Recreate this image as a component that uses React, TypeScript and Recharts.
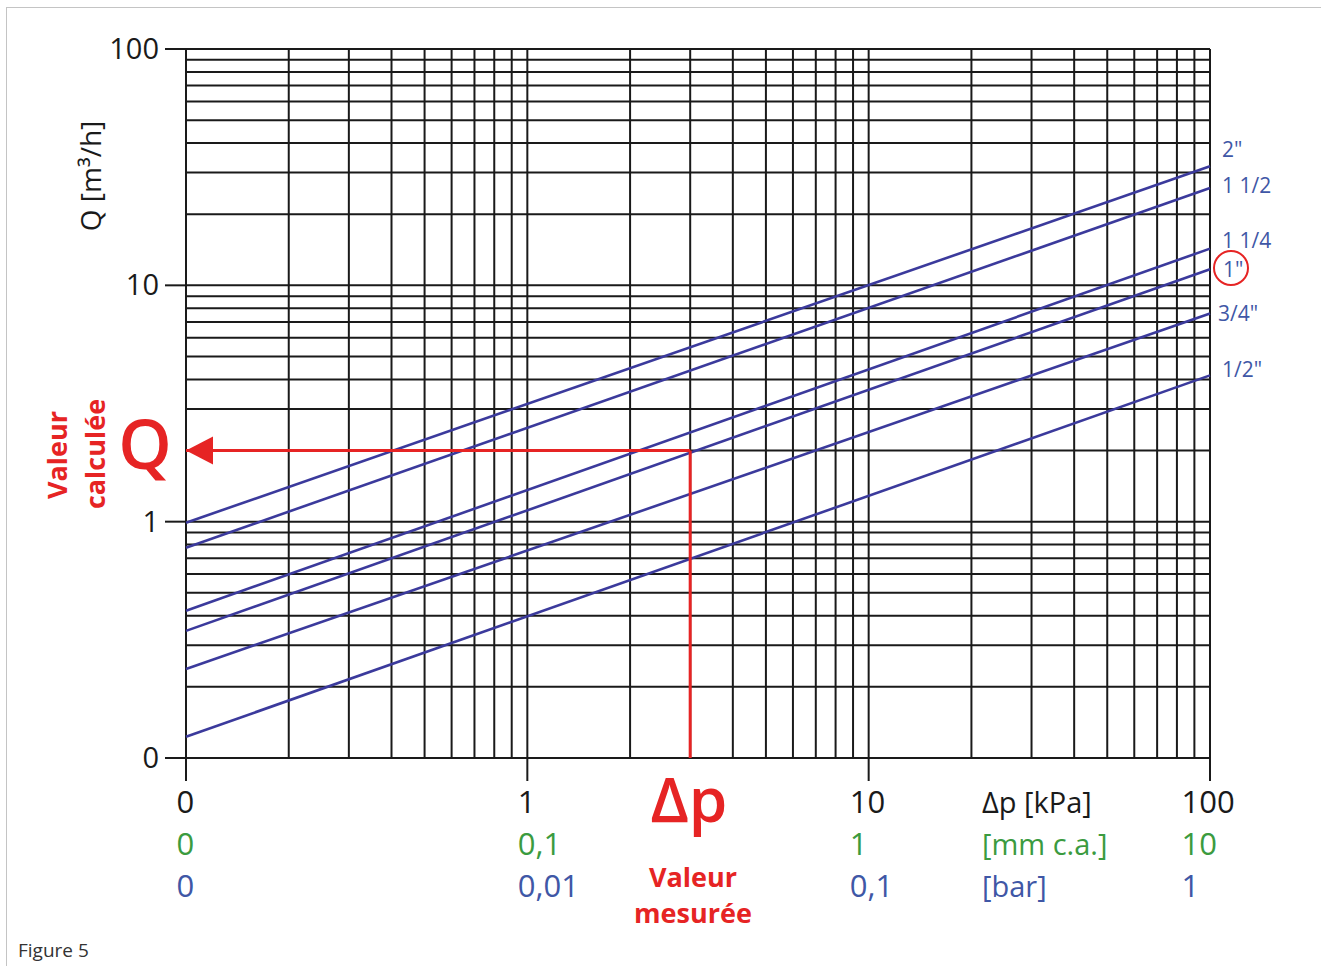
import React from "react";
import {
  LineChart,
  Line,
  XAxis,
  YAxis,
  CartesianGrid,
  ReferenceLine,
  ReferenceDot,
} from "recharts";

// log grid: 1..9 per decade
const gridTicks = [
  0.1, 0.2, 0.3, 0.4, 0.5, 0.6, 0.7, 0.8, 0.9,
  1, 2, 3, 4, 5, 6, 7, 8, 9,
  10, 20, 30, 40, 50, 60, 70, 80, 90, 100,
];

const majorTicks = [0.1, 1, 10, 100];
const kpaLabels = ["0", "1", "10", "100"];
const mmcaLabels = ["0", "0,1", "1", "10"];
const barLabels = ["0", "0,01", "0,1", "1"];
const qLabels = ["0", "1", "10", "100"];

// diameters, Q at Δp = 0.1 kPa and at 100 kPa
const sizes = ['2"', "1 1/2", "1 1/4", '1"', '3/4"', '1/2"'];
const dpEnds = [0.1, 100];
const qAtLow = [0.99, 0.776, 0.42, 0.345, 0.238, 0.123];
const qAtHigh = [31.9, 25.8, 14.3, 11.7, 7.6, 4.16];

// worked example: measured Δp -> calculated Q
const measuredDp = 3;
const calculatedQ = 2;

const data = dpEnds.map((dp, i) => {
  const row: Record<string, number> = { dp };
  sizes.forEach((_, k) => {
    row["s" + k] = i === 0 ? qAtLow[k] : qAtHigh[k];
  });
  return row;
});

const labelOffset = [
  { dx: 12, dy: -9 },
  { dx: 12, dy: 5 },
  { dx: 12, dy: -1 },
  { dx: 13, dy: 8 },
  { dx: 8, dy: 7 },
  { dx: 12, dy: 2 },
];

const FONT = "'Open Sans', sans-serif";
const BLACK = "#1a1a1a";
const GREEN = "#3b9b3f";
const BLUE = "#3f57a6";
const RED = "#e62424";
const LINE = "#3b3a9c";

function XTick(props: any) {
  const { x, y, payload } = props;
  const i = majorTicks.indexOf(payload.value);
  if (i < 0) return <g />;
  const sx = x - 9.5 * kpaLabels[i].length;
  return (
    <g fontFamily={FONT} fontSize={31}>
      <line x1={x} x2={x} y1={y} y2={y + 23} stroke={BLACK} strokeWidth={2} />
      <text x={sx} y={y + 55} fill={BLACK}>
        {kpaLabels[i]}
      </text>
      <text x={sx} y={y + 97} fill={GREEN}>
        {mmcaLabels[i]}
      </text>
      <text x={sx} y={y + 139} fill={BLUE}>
        {barLabels[i]}
      </text>
    </g>
  );
}

function YTick(props: any) {
  const { x, y, payload } = props;
  const i = majorTicks.indexOf(payload.value);
  if (i < 0) return <g />;
  return (
    <g>
      <line x1={x - 21} x2={x} y1={y} y2={y} stroke={BLACK} strokeWidth={2} />
      <text
        x={x - 27}
        y={y + 10}
        textAnchor="end"
        fontFamily={FONT}
        fontSize={29}
        fill={BLACK}
      >
        {qLabels[i]}
      </text>
    </g>
  );
}

const arrowHead = (p: any) => (
  <path
    d={`M${p.cx},${p.cy} L${p.cx + 27},${p.cy - 14} L${p.cx + 27},${p.cy + 14} Z`}
    fill={RED}
  />
);

export default function App() {
  return (
    <div
      style={{
        position: "absolute",
        left: 0,
        top: 0,
        width: 1321,
        height: 966,
        background: "#fff",
        fontFamily: FONT,
      }}
    >
      <div
        style={{
          position: "absolute",
          left: 6,
          top: 7,
          right: 0,
          bottom: 0,
          borderTop: "1px solid #c4c4c4",
          borderLeft: "1px solid #c4c4c4",
        }}
      />
      <div style={{ position: "absolute", left: 0, top: 0 }}>
        <LineChart
          width={1321}
          height={966}
          data={data}
          margin={{ top: 49, right: 111, bottom: 58, left: 86 }}
        >
          <CartesianGrid stroke={BLACK} strokeWidth={2} />
          <XAxis
            dataKey="dp"
            type="number"
            scale="log"
            domain={[0.1, 100]}
            ticks={gridTicks}
            interval={0}
            height={150}
            axisLine={false}
            tickLine={false}
            tickSize={0}
            tickMargin={0}
            tick={<XTick />}
          />
          <YAxis
            type="number"
            scale="log"
            domain={[0.1, 100]}
            ticks={gridTicks}
            interval={0}
            width={100}
            axisLine={false}
            tickLine={false}
            tickSize={0}
            tickMargin={0}
            tick={<YTick />}
          />
          {sizes.map((s, k) => (
            <Line
              key={s}
              dataKey={"s" + k}
              stroke={LINE}
              strokeWidth={2.6}
              dot={false}
              isAnimationActive={false}
              label={(p: any) =>
                p.index === dpEnds.length - 1 ? (
                  <text
                    key={"l" + k}
                    x={p.x + labelOffset[k].dx}
                    y={p.y + labelOffset[k].dy}
                    fontFamily={FONT}
                    fontSize={21}
                    fill={BLUE}
                  >
                    {s}
                  </text>
                ) : (
                  <g key={"l" + k + p.index} />
                )
              }
            />
          ))}
          <ReferenceLine
            segment={[
              { x: measuredDp, y: 0.1 },
              { x: measuredDp, y: calculatedQ },
            ]}
            stroke={RED}
            strokeWidth={3}
          />
          <ReferenceLine
            segment={[
              { x: 0.1, y: calculatedQ },
              { x: measuredDp, y: calculatedQ },
            ]}
            stroke={RED}
            strokeWidth={3}
          />
          <ReferenceDot x={0.1} y={calculatedQ} r={14} shape={arrowHead} />
        </LineChart>
      </div>
      <svg
        width={1321}
        height={966}
        style={{ position: "absolute", left: 0, top: 0, pointerEvents: "none" }}
        fontFamily={FONT}
      >
        <circle cx={1231} cy={268} r={17} fill="none" stroke={RED} strokeWidth={2} />
        <text
          transform="translate(101,176) rotate(-90)"
          textAnchor="middle"
          fontSize={28}
          fill={BLACK}
        >
          Q [m³/h]
        </text>
        <text
          transform="translate(67,455) rotate(-90)"
          textAnchor="middle"
          fontSize={27}
          fontWeight={700}
          fill={RED}
        >
          Valeur
        </text>
        <text
          transform="translate(105,454) rotate(-90)"
          textAnchor="middle"
          fontSize={27}
          fontWeight={700}
          fill={RED}
        >
          calculée
        </text>
        <text x={145} y={469} textAnchor="middle" fontSize={68} fontWeight={600} fill={RED}>
          Q
        </text>
        <text x={689} y={822} textAnchor="middle" fontSize={62} fontWeight={600} fill={RED}>
          Δp
        </text>
        <text x={693} y={887} textAnchor="middle" fontSize={27} fontWeight={700} fill={RED}>
          Valeur
        </text>
        <text x={693} y={923} textAnchor="middle" fontSize={27} fontWeight={700} fill={RED}>
          mesurée
        </text>
        <text x={982} y={813} fontSize={29} fill={BLACK}>
          Δp [kPa]
        </text>
        <text x={982} y={855} fontSize={29} fill={GREEN}>
          [mm c.a.]
        </text>
        <text x={982} y={897} fontSize={29} fill={BLUE}>
          [bar]
        </text>
        <text x={18} y={957} fontSize={19} fill="#333">
          Figure 5
        </text>
      </svg>
    </div>
  );
}
